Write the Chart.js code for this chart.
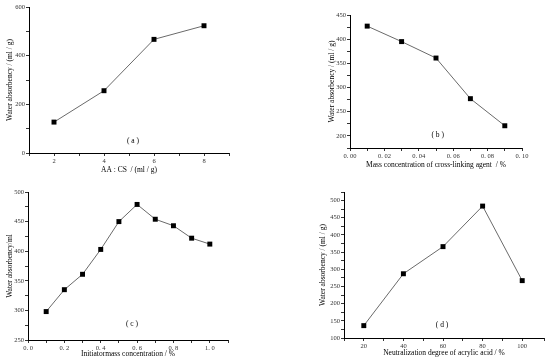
<!DOCTYPE html>
<html>
<head>
<meta charset="utf-8">
<script src="https://cdn.jsdelivr.net/npm/chart.js@4"></script>
<style>
  body { margin: 0; background: #fff; }
  #wrap { position: relative; width: 550px; height: 360px; }
  canvas { position: absolute; }
</style>
</head>
<body>
<div id="wrap">
  <canvas id="ca" width="275" height="180" style="left:0;top:0"></canvas>
  <canvas id="cb" width="275" height="180" style="left:275px;top:0"></canvas>
  <canvas id="cc" width="275" height="180" style="left:0;top:180px"></canvas>
  <canvas id="cd" width="275" height="180" style="left:275px;top:180px"></canvas>
</div>
<script>
// (a) AA : CS ratio
const ratioAA = [2, 4, 6, 8];
const absorbA = [127, 256, 467, 523];
// (b) cross-linking agent
const crossLink = [0.01, 0.03, 0.05, 0.07, 0.09];
const absorbB = [427, 395, 361, 277, 221];
// (c) initiator
const initiator = [0.1, 0.2, 0.3, 0.4, 0.5, 0.6, 0.7, 0.8, 0.9, 1.0];
const absorbC = [298, 335, 361, 403, 450, 479, 454, 443, 422, 412];
// (d) neutralization degree
const neutral = [20, 40, 60, 80, 100];
const absorbD = [136, 287, 366, 484, 267];

const panelLabels = ['( a )', '( b )', '( c )', '( d )'];

const FONT = "'Liberation Serif', 'DejaVu Serif', serif";
const TICK = 6.5;
const TITLE = 7.5;

// panel letter drawn at a spot inside the plot area
const letterPlugin = {
    id: 'letter',
    afterDraw(chart, args, opts) {
        const a = chart.chartArea;
        const ctx = chart.ctx;
        ctx.save();
        ctx.font = TITLE + 'px ' + FONT;
        ctx.fillStyle = '#000';
        ctx.textAlign = 'center';
        ctx.textBaseline = 'middle';
        ctx.fillText(opts.text, a.left + (a.right - a.left) * opts.fx, a.top + (a.bottom - a.top) * opts.fy);
        ctx.restore();
    }
};

function makeScale(o) {
    return {
        type: 'linear',
        min: o.min,
        max: o.max,
        afterFit: o.fit,
        border: { color: '#000', width: 1 },
        grid: { drawOnChartArea: false, color: '#000', tickLength: 3, lineWidth: 0.8 },
        ticks: {
            stepSize: o.step,
            autoSkip: false,
            maxRotation: 0,
            padding: 1,
            color: '#333',
            font: { family: FONT, size: TICK },
            callback: o.label
        },
        title: {
            display: true,
            text: o.title,
            color: '#000',
            font: { family: FONT, size: TITLE, lineHeight: 1 },
            padding: o.tpad
        }
    };
}

function makePanel(id, xs, ys, cfg) {
    const ctx = document.getElementById(id).getContext('2d');
    return new Chart(ctx, {
        type: 'scatter',
        data: {
            datasets: [{
                data: xs.map((x, i) => ({ x: x, y: ys[i] })),
                showLine: true,
                borderColor: '#6a6a6a',
                borderWidth: 1,
                pointStyle: 'rect',
                pointRadius: 3.5,
                pointBackgroundColor: '#000',
                pointBorderColor: '#000',
                pointBorderWidth: 0,
                clip: false
            }]
        },
        options: {
            responsive: false,
            animation: false,
            layout: { padding: { top: cfg.top, right: cfg.right, left: 0, bottom: 0 } },
            plugins: {
                legend: { display: false },
                tooltip: { enabled: false },
                letter: cfg.letter
            },
            scales: { x: makeScale(cfg.x), y: makeScale(cfg.y) }
        },
        plugins: [letterPlugin]
    });
}

const every = (n) => (v) => (Math.round(v) % n === 0 ? String(Math.round(v)) : '');

makePanel('ca', ratioAA, absorbA, {
    top: 7, right: 46,
    letter: { text: panelLabels[0], fx: 0.52, fy: 0.92 },
    x: { min: 1, max: 9, step: 1, title: 'AA : CS  / (ml / g)',
         fit: s => { s.height = 27; }, tpad: { bottom: 10 - TITLE / 2 },
         label: v => (v % 2 === 0 ? String(v) : '') },
    y: { min: 0, max: 600, step: 100, title: 'Water absorbency / (ml / g)',
         fit: s => { s.width = 29; }, tpad: { top: 10 - TITLE / 2 },
         label: every(200) }
});

makePanel('cb', crossLink, absorbB, {
    top: 15, right: 28,
    letter: { text: panelLabels[1], fx: 0.51, fy: 0.9 },
    x: { min: 0, max: 0.1, step: 0.01, title: 'Mass concentration of cross-linking agent  / %',
         fit: s => { s.height = 32; }, tpad: { bottom: 15 - TITLE / 2 },
         label: v => (Math.round(v * 100) % 2 === 0 ? v.toFixed(2).replace('.', '. ') : '') },
    y: { min: 175, max: 450, step: 25, title: 'Water absorbency / (ml / g)',
         fit: s => { s.width = 75; }, tpad: { top: 57 - TITLE / 2 },
         label: v => (v >= 200 && v % 50 === 0 ? String(v) : '') }
});

makePanel('cc', initiator, absorbC, {
    top: 12, right: 47,
    letter: { text: panelLabels[2], fx: 0.52, fy: 0.89 },
    x: { min: 0, max: 1.1, step: 0.1, title: 'Initiatormass concentration / %',
         fit: s => { s.height = 20; }, tpad: { bottom: 6.3 - TITLE / 2 },
         label: v => (Math.round(v * 10) % 2 === 0 && v < 1.05 ? v.toFixed(1).replace('.', '. ') : '') },
    y: { min: 250, max: 500, step: 25, title: 'Water absorbency/ml',
         fit: s => { s.width = 28; }, tpad: { top: 10 - TITLE / 2 },
         label: every(50) }
});

makePanel('cd', neutral, absorbD, {
    top: 12, right: 6,
    letter: { text: panelLabels[3], fx: 0.49, fy: 0.91 },
    x: { min: 10, max: 111, step: 10, title: 'Neutralization degree of acrylic acid / %',
         fit: s => { s.height = 22; }, tpad: { bottom: 7.3 - TITLE / 2 },
         label: v => (v % 20 === 0 ? String(v) : '') },
    y: { min: 100, max: 525, step: 25, title: 'Water absorbency / (ml / g)',
         fit: s => { s.width = 69; }, tpad: { top: 47.7 - TITLE / 2 },
         label: every(50) }
});
</script>
</body>
</html>
